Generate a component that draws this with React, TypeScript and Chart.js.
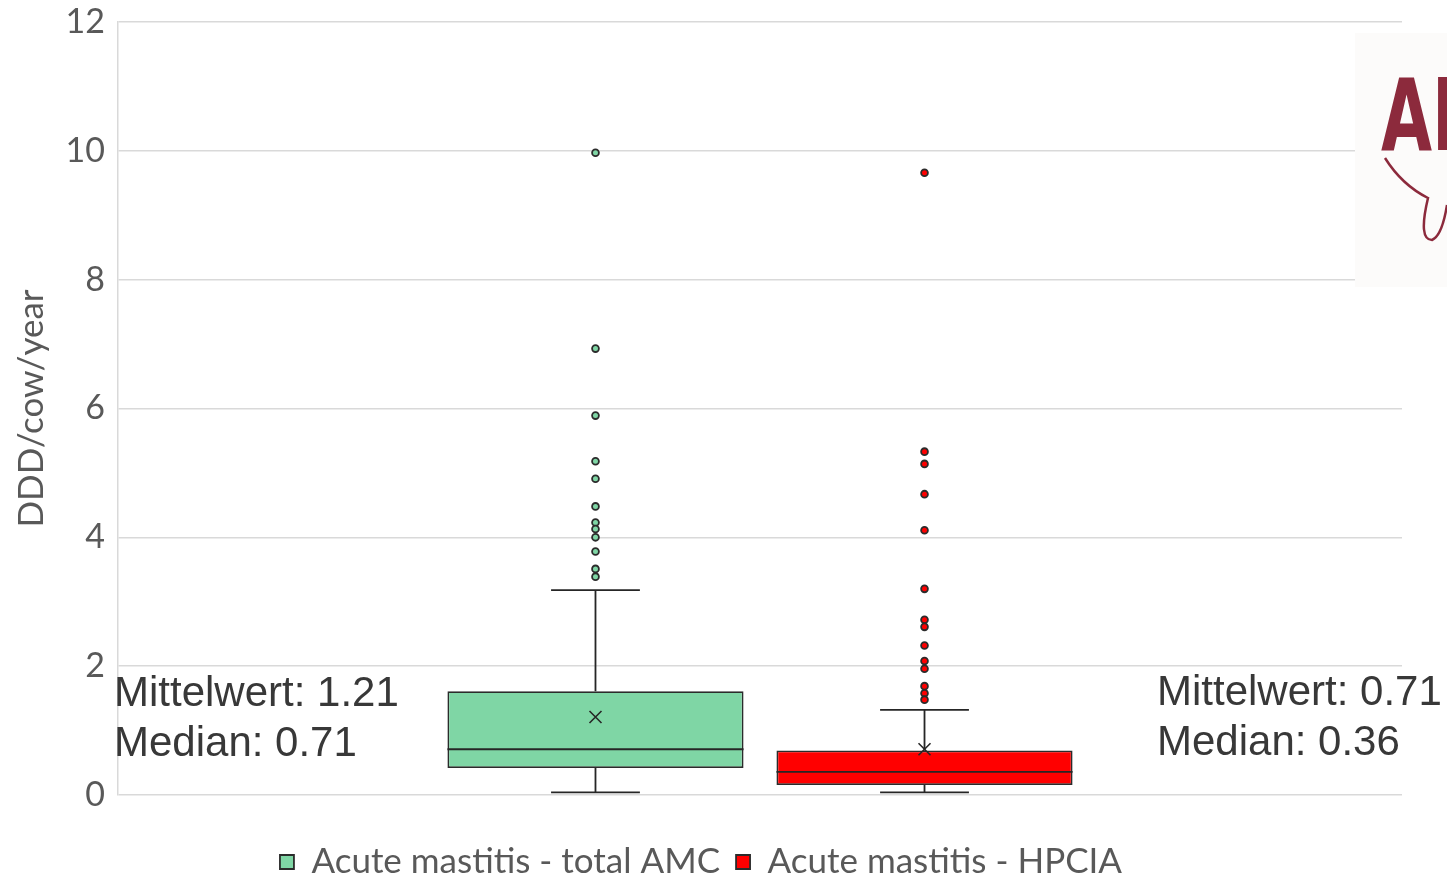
import React, { useEffect, useRef } from 'react';
import { Chart, registerables } from 'chart.js';

Chart.register(...registerables);

// ---- data ----
const categories = ['Acute mastitis'];
const seriesNames = ['Acute mastitis - total AMC', 'Acute mastitis - HPCIA'];
const seriesColors = ['#7FD6A5', '#FF0000'];
const seriesBorders = ['#2b2b2b', '#2b2b2b'];
const q1Values = [0.42, 0.155];
const q3Values = [1.61, 0.69];
const medianValues = [0.71, 0.36];
const meanValues = [1.21, 0.71];
const whiskerLow = [0.04, 0.04];
const whiskerHigh = [3.18, 1.32];
const outliersAMC = [9.97, 6.93, 5.89, 5.18, 4.91, 4.48, 4.23, 4.13, 4.0, 3.78, 3.51, 3.39];
const outliersHPCIA = [9.66, 5.33, 5.14, 4.67, 4.11, 3.2, 2.72, 2.61, 2.32, 2.08, 1.96, 1.69, 1.58, 1.48];
const yTicks = [0, 2, 4, 6, 8, 10, 12];
const yAxisTitle = 'DDD/cow/year';
const annotationLeft = ['Mittelwert: 1.21', 'Median: 0.71'];
const annotationRight = ['Mittelwert: 0.71', 'Median: 0.36'];

const outlierSets = [outliersAMC, outliersHPCIA];

const boxplotPlugin = {
  id: 'boxplotExtras',
  afterDatasetsDraw(chart: any) {
    const { ctx } = chart;
    const y = chart.scales.y;
    seriesNames.forEach((_, i) => {
      const meta = chart.getDatasetMeta(i);
      const el = meta.data[0];
      if (!el) return;
      const cx = el.x;
      const w = el.width;
      const capW = w * 0.3;
      ctx.save();
      ctx.strokeStyle = '#262626';
      ctx.lineWidth = 1.8;
      // median
      const ym = y.getPixelForValue(medianValues[i]);
      ctx.beginPath();
      ctx.moveTo(cx - w / 2, ym);
      ctx.lineTo(cx + w / 2, ym);
      ctx.stroke();
      // upper whisker
      const yq3 = y.getPixelForValue(q3Values[i]);
      const yhi = y.getPixelForValue(whiskerHigh[i]);
      ctx.beginPath();
      ctx.moveTo(cx, yq3);
      ctx.lineTo(cx, yhi);
      ctx.moveTo(cx - capW / 2, yhi);
      ctx.lineTo(cx + capW / 2, yhi);
      ctx.stroke();
      // lower whisker
      const yq1 = y.getPixelForValue(q1Values[i]);
      const ylo = y.getPixelForValue(whiskerLow[i]);
      ctx.beginPath();
      ctx.moveTo(cx, yq1);
      ctx.lineTo(cx, ylo);
      ctx.moveTo(cx - capW / 2, ylo);
      ctx.lineTo(cx + capW / 2, ylo);
      ctx.stroke();
      // mean marker
      const yMean = y.getPixelForValue(meanValues[i]);
      const s = 6;
      ctx.lineWidth = 1.6;
      ctx.beginPath();
      ctx.moveTo(cx - s, yMean - s);
      ctx.lineTo(cx + s, yMean + s);
      ctx.moveTo(cx + s, yMean - s);
      ctx.lineTo(cx - s, yMean + s);
      ctx.stroke();
      // outliers
      ctx.fillStyle = seriesColors[i];
      ctx.strokeStyle = '#2b2b2b';
      ctx.lineWidth = 1.8;
      outlierSets[i].forEach((v) => {
        const py = y.getPixelForValue(v);
        ctx.beginPath();
        ctx.arc(cx, py, 3.4, 0, Math.PI * 2);
        ctx.fill();
        ctx.stroke();
      });
      ctx.restore();
    });
  },
  afterDraw(chart: any) {
    const { ctx, chartArea } = chart;
    ctx.save();
    // annotations
    ctx.fillStyle = '#383838';
    ctx.font = '42px "Liberation Sans", Arial, sans-serif';
    ctx.textBaseline = 'alphabetic';
    ctx.textAlign = 'left';
    annotationLeft.forEach((t, k) => ctx.fillText(t, chartArea.left - 4, 706 + k * 50));
    annotationRight.forEach((t, k) => ctx.fillText(t, 1157, 705 + k * 50));
    // partial logo at right edge
    ctx.fillStyle = '#fcfbfa';
    ctx.fillRect(1355, 33, 92, 254);
    ctx.fillStyle = '#8c2a3c';
    ctx.save();
    ctx.translate(1381, 150);
    ctx.scale(0.66, 1);
    ctx.font = 'bold 100px "DejaVu Sans", sans-serif';
    ctx.fillText('AI', 0, 0);
    ctx.restore();
    ctx.strokeStyle = '#8c2a3c';
    ctx.lineWidth = 2.5;
    ctx.beginPath();
    ctx.moveTo(1385, 158);
    ctx.quadraticCurveTo(1402, 185, 1428, 198);
    ctx.quadraticCurveTo(1418, 240, 1432, 240);
    ctx.quadraticCurveTo(1442, 236, 1447, 205);
    ctx.stroke();
    ctx.restore();
  },
};

export default function App() {
  const ref = useRef<HTMLCanvasElement | null>(null);
  useEffect(() => {
    if (!ref.current) return;
    const chart = new Chart(ref.current, {
      type: 'bar',
      data: {
        labels: categories,
        datasets: seriesNames.map((name, i) => ({
          label: name,
          data: [[q1Values[i], q3Values[i]]] as any,
          backgroundColor: seriesColors[i],
          borderColor: seriesBorders[i],
          borderWidth: 1.8,
          borderSkipped: false,
          categoryPercentage: 0.5125,
          barPercentage: 0.9,
        })),
      },
      options: {
        responsive: false,
        animation: false,
        layout: { padding: { left: 0, right: 45, top: 22, bottom: -12.5 } },
        plugins: {
          tooltip: { enabled: false },
          legend: {
            position: 'bottom',
            labels: {
              color: '#595959',
              font: { family: 'Lato, "Open Sans", sans-serif', size: 35 },
              boxWidth: 14,
              boxHeight: 14,
              padding: 16,
            },
          },
        },
        scales: {
          x: {
            grid: { display: false },
            border: { display: false },
            ticks: { display: false },
            afterFit: (s: any) => {
              s.height = 33.5;
            },
          },
          y: {
            min: 0,
            max: 12,
            afterBuildTicks: (s: any) => {
              s.ticks = yTicks.map((v) => ({ value: v }));
            },
            afterFit: (s: any) => {
              s.width = 118;
            },
            grid: { color: '#d9d9d9', lineWidth: 1.5, drawTicks: false },
            border: { display: true, color: '#d9d9d9', width: 1.5 },
            ticks: {
              color: '#595959',
              padding: 13,
              font: { family: 'Lato, "Open Sans", sans-serif', size: 34, lineHeight: 0.5 },
            },
            title: {
              display: true,
              text: yAxisTitle,
              color: '#595959',
              font: { family: 'Lato, "Open Sans", sans-serif', size: 35 },
              padding: { top: 11, bottom: 0 },
            },
          },
        },
      },
      plugins: [boxplotPlugin],
    });
    return () => chart.destroy();
  }, []);
  return (
    <div style={{ position: 'fixed', left: 0, top: 0, width: 1447, height: 877, background: '#ffffff' }}>
      <canvas ref={ref} width={1447} height={877} />
    </div>
  );
}
